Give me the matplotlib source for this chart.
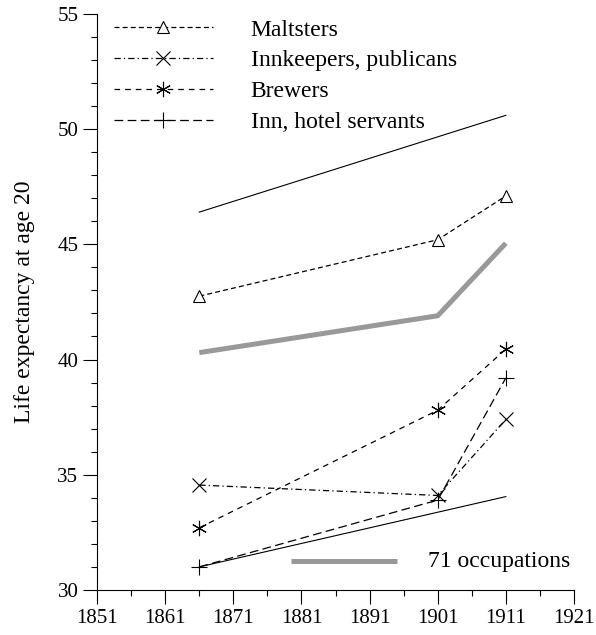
import matplotlib

matplotlib.use("Agg")

import matplotlib.pyplot as plt
from matplotlib.ticker import MultipleLocator

plt.rcParams["font.family"] = ["Liberation Serif", "DejaVu Serif"]

years = [1866, 1901, 1911]
maltsters = [42.75, 45.2, 47.1]
innkeepers = [34.55, 34.1, 37.4]
brewers = [32.7, 37.8, 40.45]
inn_servants = [31.0, 33.9, 39.2]
all_occupations = [40.3, 41.9, 45.05]
upper_bound = [46.4, 50.6]
lower_bound = [31.0, 34.05]
bound_years = [1866, 1911]
gray_key_x = [1879.5, 1895]
gray_key_y = [31.25, 31.25]
x_major = [1851, 1861, 1871, 1881, 1891, 1901, 1911, 1921]
x_minor = [1856, 1866, 1876, 1886, 1896, 1906, 1916]

FS = 17

fig = plt.figure(figsize=(5.96, 6.35), dpi=100)
ax = fig.add_axes([0.163, 0.071, 0.800, 0.907])

ax.plot(bound_years, upper_bound, color="black", lw=0.8)
ax.plot(bound_years, lower_bound, color="black", lw=0.8)
ax.plot(years, all_occupations, color="#999999", lw=3.6, solid_capstyle="butt")

ax.plot(years, maltsters, color="black", lw=0.9, dashes=(4, 2.5),
        marker="^", ms=9, mfc="white", mec="black", mew=0.8, label="Maltsters")
ax.plot(years, innkeepers, color="black", lw=0.9, dashes=(5, 2.5, 1, 2.5),
        marker="x", ms=10, mec="black", mew=0.8, label="Innkeepers, publicans")
ax.plot(years, brewers, color="black", lw=0.9, dashes=(4.5, 4),
        marker=(6, 2, 0), ms=11, mec="black", mew=0.8, label="Brewers")
ax.plot(years, inn_servants, color="black", lw=0.9, dashes=(7, 3.5),
        marker="+", ms=11, mec="black", mew=0.8, label="Inn, hotel servants")

ax.plot(gray_key_x, gray_key_y, color="#999999", lw=3.6, solid_capstyle="butt")
ax.text(1899.5, 31.25, "71 occupations", fontsize=FS, va="center", ha="left")

ax.set_xlim(1851, 1921)
ax.set_ylim(30, 55)
ax.set_xticks(x_major)
ax.set_xticks(x_minor, minor=True)
ax.yaxis.set_major_locator(MultipleLocator(5))
ax.yaxis.set_minor_locator(MultipleLocator(1))
ax.tick_params(which="major", length=10, width=0.8, labelsize=15, direction="out")
ax.tick_params(which="minor", length=4.5, width=0.8, direction="out")
ax.set_ylabel("Life expectancy at age 20", fontsize=FS, labelpad=16)

for side in ["top", "right"]:
    ax.spines[side].set_visible(False)
for side in ["left", "bottom"]:
    ax.spines[side].set_linewidth(0.8)

ax.legend(loc="upper left", frameon=False, fontsize=FS, numpoints=1,
          handlelength=4.2, handletextpad=1.6, labelspacing=0.4,
          borderaxespad=0.3, bbox_to_anchor=(0.0, 1.02))

fig.savefig("out.png", dpi=100)
